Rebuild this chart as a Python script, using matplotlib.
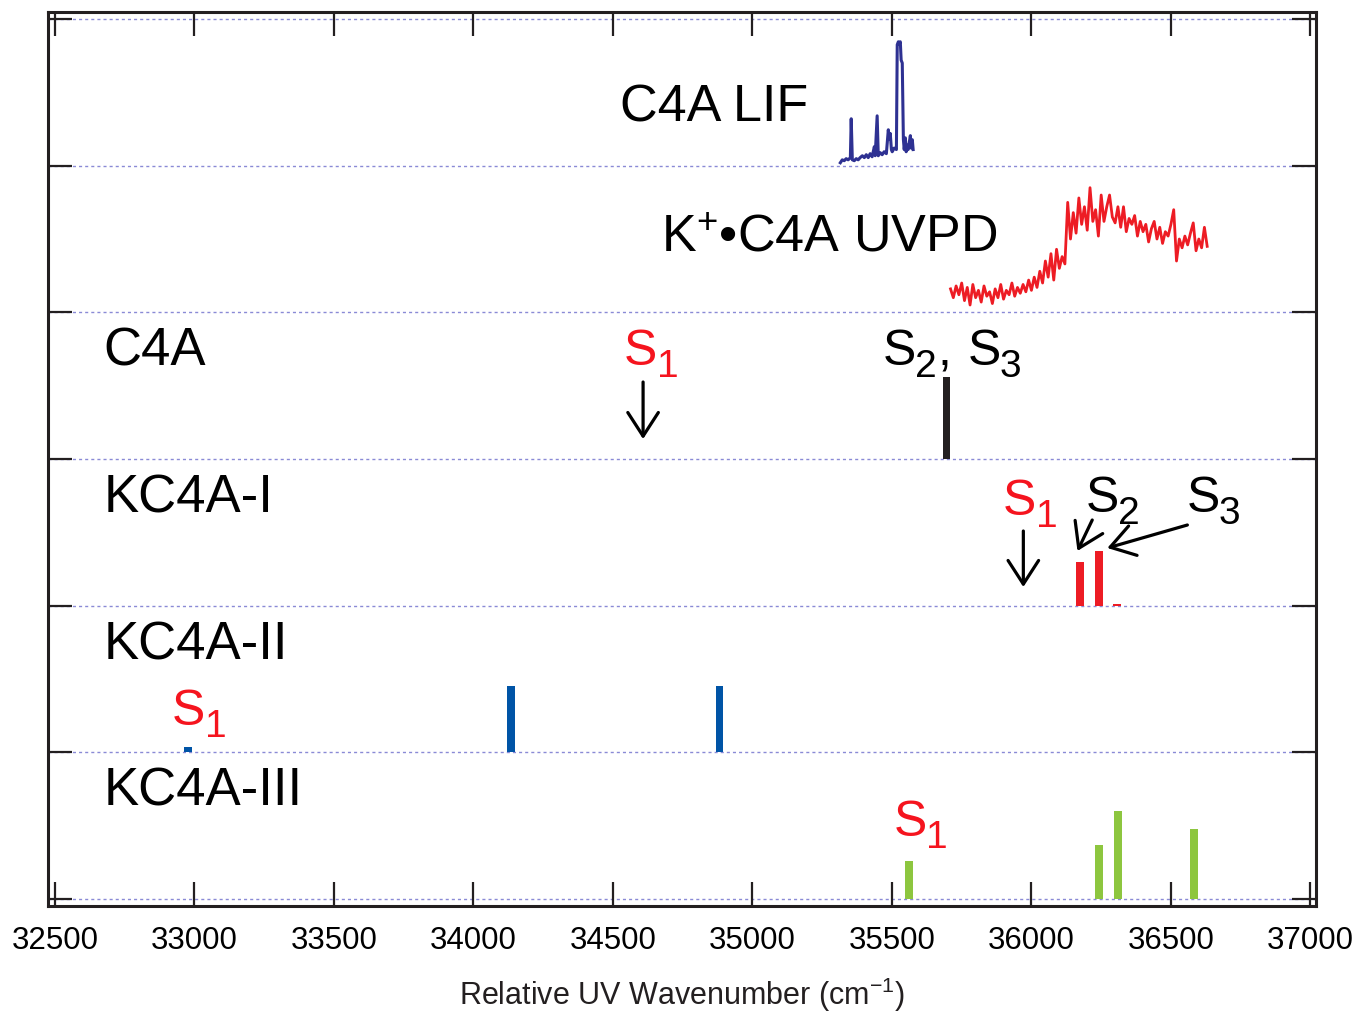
import numpy as np
import matplotlib
matplotlib.use('Agg')
import matplotlib.pyplot as plt

plt.rcParams['font.family'] = ['Liberation Sans', 'DejaVu Sans']
plt.rcParams['mathtext.fontset'] = 'custom'
plt.rcParams['mathtext.rm'] = 'Liberation Sans'
plt.rcParams['mathtext.it'] = 'Liberation Sans:italic'
plt.rcParams['mathtext.bf'] = 'Liberation Sans:bold'

# ---------------- data ----------------
x_ticks = [32500, 33000, 33500, 34000, 34500, 35000, 35500, 36000, 36500, 37000]
panel_names = ['C4A', 'KC4A-I', 'KC4A-II', 'KC4A-III']
panel_base = [3, 2, 1, 0]

# C4A LIF spectrum (panel baseline 5)
lif_x = [35315, 35322, 35329, 35336, 35343, 35351, 35354, 35358, 35365, 35372,
         35379, 35386, 35394, 35401, 35408, 35415, 35422, 35429, 35437, 35440,
         35447, 35451, 35458, 35465, 35472, 35480, 35487, 35490, 35494, 35498,
         35501, 35508, 35516, 35519, 35523, 35526, 35530, 35533, 35537, 35541,
         35544, 35548, 35551, 35555, 35558, 35562, 35566, 35569, 35573, 35576]
lif_y = [0.02, 0.04, 0.034, 0.048, 0.04, 0.055, 0.32, 0.04, 0.034, 0.048,
         0.04, 0.055, 0.068, 0.055, 0.075, 0.055, 0.082, 0.061, 0.13, 0.068,
         0.34, 0.068, 0.089, 0.075, 0.095, 0.082, 0.245, 0.18, 0.22, 0.11,
         0.095, 0.12, 0.11, 0.825, 0.845, 0.83, 0.845, 0.72, 0.70, 0.18,
         0.11, 0.19, 0.095, 0.14, 0.11, 0.157, 0.205, 0.12, 0.177, 0.11]

# K+.C4A UVPD spectrum (panel baseline 4)
uvpd_x = [35710, 35720, 35730, 35740, 35750, 35760, 35770, 35780, 35790, 35800,
          35810, 35820, 35830, 35840, 35850, 35860, 35870, 35880, 35890, 35900,
          35910, 35920, 35930, 35940, 35950, 35960, 35970, 35980, 35990, 36000,
          36010, 36020, 36030, 36040, 36050, 36060, 36070, 36080, 36090, 36100,
          36110, 36120, 36130, 36140, 36150, 36160, 36170, 36180, 36190, 36200,
          36210, 36220, 36230, 36240, 36250, 36260, 36270, 36280, 36290, 36300,
          36310, 36320, 36330, 36340, 36350, 36360, 36370, 36380, 36390, 36400,
          36410, 36420, 36430, 36440, 36450, 36460, 36470, 36480, 36490, 36500,
          36510, 36520, 36530, 36540, 36550, 36560, 36570, 36580, 36590, 36600,
          36610, 36620, 36630]
uvpd_y = [0.16, 0.10, 0.18, 0.12, 0.20, 0.08, 0.17, 0.05, 0.19, 0.10,
          0.15, 0.07, 0.18, 0.11, 0.14, 0.06, 0.16, 0.10, 0.19, 0.09,
          0.15, 0.12, 0.20, 0.11, 0.17, 0.13, 0.19, 0.14, 0.22, 0.15,
          0.24, 0.17, 0.28, 0.20, 0.35, 0.24, 0.40, 0.22, 0.43, 0.30,
          0.38, 0.33, 0.75, 0.50, 0.68, 0.54, 0.78, 0.60, 0.72, 0.56,
          0.85, 0.62, 0.70, 0.52, 0.80, 0.62, 0.72, 0.80, 0.65, 0.61,
          0.72, 0.58, 0.72, 0.55, 0.64, 0.60, 0.66, 0.52, 0.62, 0.55,
          0.60, 0.48, 0.57, 0.62, 0.50, 0.58, 0.47, 0.55, 0.52, 0.60,
          0.70, 0.35, 0.50, 0.44, 0.52, 0.46, 0.54, 0.61, 0.42, 0.50,
          0.44, 0.58, 0.45]

# stick spectra (height within panel)
c4a_x = [35695]
c4a_h = [0.56]
kc4a1_x = [36175, 36242, 36308]
kc4a1_h = [0.295, 0.37, 0.008]
kc4a2_x = [32977, 34135, 34881]
kc4a2_h = [0.034, 0.45, 0.45]
kc4a3_x = [35562, 36243, 36310, 36582]
kc4a3_h = [0.259, 0.368, 0.60, 0.477]

# ---------------- figure ----------------
fig = plt.figure(figsize=(13.56, 10.2), dpi=100)
ax = fig.add_axes([48/1356, 1-907/1020, (1316-48)/1356, (907-13)/1020])

ax.set_xlim(32475, 37020)
ax.set_ylim(-0.048, 6.048)

# panel separators
for yb in range(7):
    ax.axhline(yb, color='#8a8ad6', lw=1.0, ls=(0, (2.2, 2.2)), zorder=1)

# spectra
ax.plot(lif_x, np.array(lif_y) + 5, color='#2e3192', lw=2.2, zorder=3)
ax.plot(uvpd_x, np.array(uvpd_y) + 4, color='#ed1c24', lw=2.0, zorder=3)

ax.bar(c4a_x, c4a_h, bottom=3, width=25, color='#231f20', zorder=3)
ax.bar(kc4a1_x, kc4a1_h, bottom=2, width=29, color='#ed1c24', zorder=3)
ax.bar(kc4a2_x, kc4a2_h, bottom=1, width=26, color='#0054a6', zorder=3)
ax.bar(kc4a3_x, kc4a3_h, bottom=0, width=29, color='#8dc63f', zorder=3)

# labels
fs = 37.5
ax.text(34527, 5.311, 'C4A LIF', fontsize=fs, va='baseline', ha='left')
ax.text(34674, 4.42, r'K$^{\mathregular{+}}$•C4A UVPD', fontsize=fs, va='baseline', ha='left')
for name, b in zip(panel_names, panel_base):
    ax.text(32675, b + 0.643, name, fontsize=38, va='baseline', ha='left')

red = '#f5141e'


def s_label(x, y, sub, color):
    ax.text(x, y, 'S', fontsize=36, color=color, va='baseline', ha='left')
    ax.annotate(sub, xy=(x, y), xytext=(23.5, -8.6), textcoords='offset points',
                fontsize=28, color=color, va='baseline', ha='left')


s_label(34540, 3.65, '1', red)
s_label(35466, 3.65, '2', 'black')
ax.text(35662, 3.65, ',', fontsize=36, color='black', va='baseline', ha='left')
s_label(35770, 3.65, '3', 'black')
s_label(35898, 2.625, '1', red)
s_label(36195, 2.645, '2', 'black')
s_label(36555, 2.645, '3', 'black')
s_label(32920, 1.193, '1', red)
s_label(35505, 0.436, '1', red)

# arrows
aprops = dict(arrowstyle='->,head_length=0.85,head_width=0.55', lw=2.3, color='black',
              shrinkA=0, shrinkB=0, mutation_scale=20)
ax.annotate('', xy=(34608, 3.136), xytext=(34608, 3.525), arrowprops=aprops)
ax.annotate('', xy=(35971, 2.127), xytext=(35971, 2.509), arrowprops=aprops)
ax.annotate('', xy=(36165, 2.373), xytext=(36218, 2.584), arrowprops=aprops)
ax.annotate('', xy=(36272, 2.393), xytext=(36559, 2.55), arrowprops=aprops)

# axes styling
for s in ax.spines.values():
    s.set_linewidth(2.2)
    s.set_color('#231f20')
ax.set_xticks(x_ticks)
ax.set_xticklabels([str(t) for t in x_ticks])
ax.set_yticks(range(7))
ax.set_yticklabels([])
ax.tick_params(axis='both', direction='in', length=17, width=1.6, color='#231f20',
               top=True, right=True, labelsize=22.5, pad=14)
ax.set_xlabel(r'Relative UV Wavenumber (cm$^{\mathregular{-1}}$)', fontsize=22,
              color='#231f20', labelpad=14)

fig.savefig('out.png', dpi=100)
